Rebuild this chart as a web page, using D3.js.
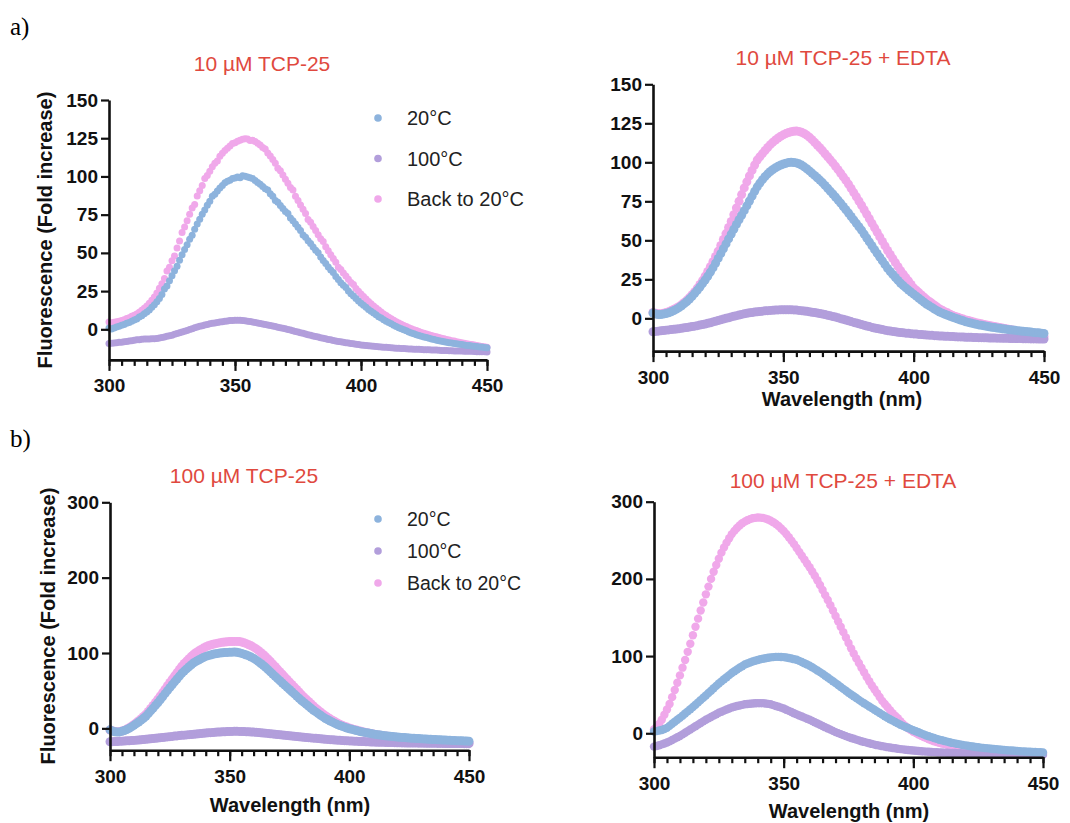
<!DOCTYPE html>
<html>
<head>
<meta charset="utf-8">
<script src="https://cdn.jsdelivr.net/npm/d3@7"></script>
<style>
  body { margin: 0; background: #fff; }
  svg { display: block; font-family: "Liberation Sans", Arial, Helvetica, sans-serif; }
</style>
</head>
<body>
<svg id="chart" width="1070" height="823"></svg>
<script>
// one reading per nm, starting at 300 nm
var waveStart = 300;

var seriesNames = ["20°C", "100°C", "Back to 20°C"];
var panelTitles = ["10 µM TCP-25", "10 µM TCP-25 + EDTA", "100 µM TCP-25", "100 µM TCP-25 + EDTA"];
var yTicksLow = [0, 25, 50, 75, 100, 125, 150];
var yTicksHigh = [0, 100, 200, 300];
var xMajorTicks = [300, 350, 400, 450];

// ---- a) 10 uM TCP-25 ----
var tcp10_20C = [
  0.8, 0.2, 0.9, 1.6, 2.0, 2.6, 3.1, 3.9, 4.4, 5.3,
  6.1, 6.8, 8.0, 8.9, 10.2, 11.3, 12.6, 14.4, 16.0, 18.1,
  20.2, 22.8, 26.3, 28.4, 31.8, 35.0, 38.3, 41.2, 45.1, 48.7,
  52.2, 55.4, 58.9, 61.6, 65.4, 68.9, 72.0, 75.3, 78.1, 81.2,
  83.8, 87.0, 88.3, 90.5, 92.4, 94.0, 95.9, 96.8, 97.5, 98.6,
  98.9, 99.6, 99.1, 100.4, 100.1, 99.6, 99.2, 98.6, 97.3, 96.0,
  94.9, 93.5, 92.0, 91.2, 88.6, 87.1, 84.3, 83.2, 81.0, 79.1,
  77.0, 75.8, 72.8, 71.0, 68.9, 66.8, 64.7, 61.7, 60.3, 58.0,
  56.1, 53.8, 51.7, 50.1, 47.3, 45.0, 43.0, 40.7, 38.8, 37.2,
  34.6, 32.6, 30.5, 28.8, 27.3, 25.1, 23.3, 21.8, 20.1, 18.6,
  17.1, 15.7, 14.4, 13.0, 11.8, 10.6, 9.5, 8.3, 7.4, 6.2,
  5.3, 4.4, 3.6, 2.6, 1.9, 1.1, 0.4, -0.3, -1.0, -1.7,
  -2.4, -2.9, -3.6, -4.0, -4.6, -5.1, -5.4, -5.9, -6.4, -6.7,
  -7.1, -7.4, -7.8, -8.1, -8.4, -8.8, -8.9, -9.3, -9.5, -9.8,
  -10.0, -10.2, -10.5, -10.6, -10.9, -11.1, -11.3, -11.5, -11.6, -11.9,
  -12.1
];
var tcp10_100C = [
  -9.3, -9.1, -8.9, -8.8, -8.5, -8.4, -8.1, -7.9, -7.6, -7.5,
  -7.2, -6.9, -6.8, -6.5, -6.4, -6.3, -6.4, -6.2, -6.2, -6.0,
  -5.7, -5.4, -5.0, -4.6, -4.2, -3.8, -3.3, -2.8, -2.3, -1.8,
  -1.2, -0.7, -0.1, 0.4, 1.0, 1.5, 2.0, 2.4, 2.9, 3.2,
  3.6, 3.9, 4.2, 4.5, 4.8, 5.0, 5.3, 5.4, 5.7, 5.8,
  5.9, 6.0, 5.9, 5.8, 5.6, 5.3, 5.1, 4.8, 4.5, 4.2,
  3.8, 3.5, 3.2, 2.9, 2.5, 2.2, 1.8, 1.4, 1.1, 0.7,
  0.3, -0.1, -0.5, -0.9, -1.4, -1.8, -2.2, -2.6, -3.1, -3.5,
  -3.9, -4.3, -4.7, -5.1, -5.5, -5.9, -6.2, -6.6, -6.9, -7.3,
  -7.6, -7.9, -8.2, -8.5, -8.8, -9.0, -9.3, -9.5, -9.8, -10.0,
  -10.2, -10.4, -10.6, -10.7, -10.9, -11.1, -11.2, -11.4, -11.5, -11.7,
  -11.8, -11.9, -12.1, -12.2, -12.3, -12.4, -12.5, -12.6, -12.7, -12.8,
  -12.9, -13.0, -13.1, -13.1, -13.2, -13.3, -13.4, -13.4, -13.5, -13.6,
  -13.6, -13.7, -13.8, -13.9, -13.9, -14.0, -14.0, -14.1, -14.1, -14.2,
  -14.2, -14.3, -14.3, -14.4, -14.4, -14.5, -14.6, -14.6, -14.7, -14.7,
  -14.8
];
var tcp10_back = [
  4.8, 4.2, 4.6, 5.0, 5.3, 5.7, 6.3, 7.0, 7.6, 8.5,
  9.2, 10.1, 11.2, 12.4, 13.8, 15.3, 17.0, 19.0, 21.2, 23.7,
  26.8, 29.8, 33.2, 38.1, 40.6, 44.8, 47.9, 53.2, 57.8, 63.4,
  66.9, 71.0, 75.3, 79.4, 81.6, 87.2, 90.6, 94.1, 98.6, 100.6,
  103.4, 106.3, 108.6, 110.1, 113.2, 115.1, 116.9, 118.4, 119.9, 121.6,
  122.1, 123.0, 123.6, 124.4, 124.7, 124.5, 123.5, 123.6, 122.8, 121.7,
  120.5, 119.0, 118.0, 115.4, 113.3, 111.1, 108.7, 105.4, 103.7, 101.0,
  98.2, 95.6, 92.8, 91.1, 87.1, 84.3, 81.4, 78.6, 75.7, 71.8,
  70.1, 67.3, 64.6, 61.9, 59.2, 57.5, 54.0, 51.4, 48.8, 46.3,
  43.9, 40.6, 39.2, 36.9, 34.8, 32.7, 30.6, 29.4, 26.7, 24.9,
  23.1, 21.4, 19.8, 18.2, 16.7, 15.2, 13.9, 12.6, 11.3, 10.1,
  9.0, 7.9, 6.9, 5.9, 5.0, 4.1, 3.3, 2.5, 1.8, 1.1,
  0.4, -0.2, -0.8, -1.4, -2.0, -2.5, -3.0, -3.5, -4.0, -4.5,
  -4.9, -5.4, -5.8, -6.2, -6.6, -7.0, -7.4, -7.7, -8.1, -8.4,
  -8.8, -9.1, -9.4, -9.7, -10.0, -10.3, -10.6, -10.9, -11.2, -11.4,
  -11.7
];

// ---- a) 10 uM TCP-25 + EDTA ----
var tcp10Edta_20C = [
  3.4, 2.8, 2.4, 2.4, 2.7, 3.1, 3.6, 4.2, 5.0, 5.9,
  6.9, 8.1, 9.4, 10.8, 12.4, 14.1, 16.0, 18.0, 20.1, 22.3,
  24.6, 27.0, 29.6, 32.3, 35.3, 38.4, 41.5, 44.6, 47.7, 50.9,
  54.0, 57.1, 60.2, 63.2, 66.1, 69.0, 72.1, 75.2, 78.3, 81.4,
  84.3, 86.7, 88.9, 90.9, 92.6, 94.1, 95.4, 96.5, 97.5, 98.3,
  98.9, 99.4, 99.8, 100.0, 99.9, 99.6, 99.0, 98.2, 97.1, 95.9,
  94.5, 93.1, 91.6, 90.1, 88.6, 87.0, 85.2, 83.4, 81.5, 79.7,
  77.8, 75.8, 73.8, 71.7, 69.6, 67.5, 65.3, 63.1, 60.9, 58.7,
  56.5, 54.0, 51.5, 49.0, 46.5, 44.0, 41.6, 39.2, 36.8, 34.4,
  32.0, 30.0, 28.1, 26.2, 24.3, 22.5, 21.0, 19.5, 18.1, 16.8,
  15.5, 14.2, 12.9, 11.6, 10.3, 9.0, 8.0, 7.0, 5.9, 4.9,
  4.0, 3.3, 2.6, 2.0, 1.3, 0.7, 0.1, -0.5, -1.1, -1.6,
  -2.2, -2.6, -3.0, -3.4, -3.8, -4.2, -4.5, -4.8, -5.1, -5.4,
  -5.7, -5.9, -6.2, -6.4, -6.7, -6.9, -7.1, -7.3, -7.5, -7.7,
  -7.9, -8.1, -8.3, -8.4, -8.6, -8.8, -9.0, -9.2, -9.3, -9.5,
  -9.7
];
var tcp10Edta_100C = [
  -8.6, -8.4, -8.2, -8.0, -7.8, -7.6, -7.4, -7.2, -7.0, -6.8,
  -6.6, -6.4, -6.1, -5.9, -5.6, -5.3, -5.0, -4.7, -4.3, -4.0,
  -3.6, -3.2, -2.8, -2.3, -1.9, -1.4, -0.9, -0.5, 0.0, 0.4,
  0.9, 1.3, 1.7, 2.1, 2.5, 2.9, 3.2, 3.5, 3.7, 4.0,
  4.2, 4.4, 4.6, 4.8, 4.9, 5.1, 5.2, 5.3, 5.4, 5.5,
  5.5, 5.5, 5.5, 5.5, 5.4, 5.3, 5.1, 4.9, 4.7, 4.5,
  4.2, 3.9, 3.7, 3.4, 3.1, 2.8, 2.4, 2.0, 1.6, 1.2,
  0.8, 0.3, -0.2, -0.6, -1.1, -1.6, -2.1, -2.6, -3.0, -3.5,
  -4.0, -4.4, -4.9, -5.3, -5.8, -6.2, -6.5, -6.9, -7.2, -7.6,
  -7.9, -8.1, -8.4, -8.6, -8.9, -9.1, -9.3, -9.5, -9.6, -9.8,
  -10.0, -10.1, -10.3, -10.4, -10.6, -10.7, -10.8, -10.9, -11.1, -11.2,
  -11.3, -11.4, -11.5, -11.5, -11.6, -11.7, -11.8, -11.9, -11.9, -12.0,
  -12.1, -12.2, -12.2, -12.3, -12.3, -12.4, -12.4, -12.5, -12.5, -12.6,
  -12.6, -12.6, -12.7, -12.7, -12.8, -12.8, -12.8, -12.9, -12.9, -13.0,
  -13.0, -13.0, -13.1, -13.1, -13.1, -13.2, -13.2, -13.2, -13.3, -13.3,
  -13.3
];
var tcp10Edta_back = [
  3.8, 3.2, 2.9, 3.0, 3.3, 3.7, 4.3, 5.0, 5.8, 6.6,
  7.6, 8.8, 10.2, 11.7, 13.3, 15.1, 17.1, 19.3, 21.7, 24.2,
  27.0, 30.0, 33.1, 36.3, 39.6, 43.0, 46.7, 50.5, 54.3, 58.2,
  62.1, 66.4, 70.7, 75.0, 79.3, 83.6, 87.5, 91.3, 94.8, 98.3,
  101.5, 103.6, 105.6, 107.6, 109.5, 111.3, 112.9, 114.3, 115.6, 116.7,
  117.6, 118.4, 119.1, 119.6, 119.9, 120.0, 119.8, 119.3, 118.5, 117.4,
  116.1, 114.5, 112.8, 111.1, 109.3, 107.5, 105.5, 103.6, 101.6, 99.6,
  97.5, 95.3, 93.0, 90.7, 88.4, 86.0, 83.3, 80.6, 77.9, 75.2,
  72.5, 69.6, 66.7, 63.8, 60.9, 58.0, 55.1, 52.2, 49.3, 46.4,
  43.5, 40.9, 38.3, 35.7, 33.1, 30.5, 28.3, 26.1, 23.9, 21.7,
  19.5, 18.0, 16.5, 15.0, 13.5, 12.0, 10.8, 9.6, 8.4, 7.2,
  6.0, 5.2, 4.3, 3.5, 2.6, 1.8, 1.2, 0.7, 0.1, -0.5,
  -1.0, -1.4, -1.9, -2.3, -2.8, -3.2, -3.5, -3.9, -4.2, -4.6,
  -4.9, -5.2, -5.5, -5.9, -6.2, -6.5, -6.8, -7.2, -7.5, -7.9,
  -8.2, -8.6, -8.9, -9.3, -9.6, -10.0, -10.3, -10.7, -11.0, -11.4,
  -11.7
];

// ---- b) 100 uM TCP-25 ----
var tcp100_20C = [
  -2.0, -3.5, -4.5, -5.0, -4.7, -4.0, -3.0, -1.6, 0.0, 1.9,
  4.0, 6.2, 8.5, 10.9, 13.4, 16.0, 19.5, 23.1, 26.7, 30.4,
  34.0, 38.0, 42.0, 46.0, 50.0, 54.0, 57.9, 61.7, 65.5, 69.3,
  73.0, 76.0, 78.9, 81.7, 84.4, 87.0, 88.9, 90.7, 92.4, 94.0,
  95.5, 96.5, 97.4, 98.2, 98.9, 99.5, 99.9, 100.3, 100.6, 100.8,
  101.0, 101.1, 101.2, 100.9, 100.3, 99.5, 98.5, 97.4, 96.1, 94.6,
  93.0, 90.8, 88.5, 86.1, 83.6, 81.0, 78.0, 75.0, 72.0, 69.0,
  66.0, 63.1, 60.2, 57.3, 54.4, 51.5, 48.6, 45.7, 42.8, 39.9,
  37.0, 34.4, 31.8, 29.2, 26.6, 24.0, 21.8, 19.6, 17.4, 15.2,
  13.0, 11.4, 9.8, 8.2, 6.6, 5.0, 3.8, 2.7, 1.6, 0.5,
  -0.5, -1.3, -2.1, -2.9, -3.7, -4.5, -5.1, -5.7, -6.3, -6.9,
  -7.5, -8.0, -8.5, -8.9, -9.4, -9.8, -10.2, -10.5, -10.9, -11.2,
  -11.5, -11.8, -12.0, -12.3, -12.5, -12.8, -13.0, -13.2, -13.4, -13.6,
  -13.8, -14.0, -14.2, -14.4, -14.6, -14.8, -14.9, -15.1, -15.2, -15.4,
  -15.5, -15.7, -15.8, -16.0, -16.1, -16.3, -16.4, -16.6, -16.7, -16.9,
  -17.0
];
var tcp100_100C = [
  -17.8, -17.7, -17.5, -17.4, -17.2, -17.0, -16.8, -16.6, -16.4, -16.2,
  -16.0, -15.7, -15.4, -15.1, -14.8, -14.5, -14.2, -13.8, -13.5, -13.1,
  -12.8, -12.4, -12.1, -11.7, -11.4, -11.0, -10.7, -10.3, -10.0, -9.6,
  -9.3, -9.0, -8.7, -8.4, -8.1, -7.8, -7.5, -7.2, -6.9, -6.6,
  -6.3, -6.0, -5.7, -5.5, -5.2, -5.0, -4.8, -4.6, -4.5, -4.3,
  -4.2, -4.1, -4.0, -4.0, -4.1, -4.2, -4.3, -4.5, -4.6, -4.8,
  -5.0, -5.3, -5.5, -5.8, -6.1, -6.4, -6.7, -7.1, -7.4, -7.8,
  -8.1, -8.4, -8.8, -9.1, -9.5, -9.8, -10.1, -10.5, -10.8, -11.2,
  -11.5, -11.8, -12.1, -12.4, -12.7, -13.0, -13.3, -13.6, -13.9, -14.2,
  -14.5, -14.7, -15.0, -15.2, -15.5, -15.7, -15.9, -16.1, -16.3, -16.5,
  -16.7, -16.9, -17.0, -17.2, -17.3, -17.5, -17.6, -17.8, -17.9, -18.1,
  -18.2, -18.3, -18.4, -18.5, -18.6, -18.7, -18.8, -18.9, -18.9, -19.0,
  -19.1, -19.2, -19.3, -19.3, -19.4, -19.5, -19.5, -19.6, -19.6, -19.7,
  -19.7, -19.7, -19.8, -19.8, -19.9, -19.9, -19.9, -20.0, -20.0, -20.0,
  -20.1, -20.1, -20.1, -20.1, -20.2, -20.2, -20.2, -20.2, -20.3, -20.3,
  -20.3
];
var tcp100_back = [
  -2.2, -3.3, -4.2, -4.6, -4.4, -3.6, -2.5, -1.0, 0.8, 2.9,
  5.2, 7.6, 10.2, 12.9, 15.8, 18.8, 22.4, 26.4, 30.4, 34.5,
  38.6, 43.0, 47.5, 52.0, 56.5, 61.0, 65.4, 69.7, 74.0, 78.3,
  82.4, 86.0, 89.3, 92.5, 95.6, 98.5, 100.8, 102.8, 104.7, 106.5,
  108.2, 109.5, 110.6, 111.6, 112.4, 113.1, 113.7, 114.2, 114.6, 114.9,
  115.1, 115.3, 115.4, 115.4, 115.1, 114.5, 113.6, 112.4, 111.0, 109.5,
  107.8, 105.8, 103.4, 100.8, 98.0, 95.2, 92.2, 88.9, 85.5, 82.1,
  78.6, 75.2, 71.8, 68.4, 65.0, 61.6, 58.2, 54.9, 51.5, 48.2,
  44.8, 41.6, 38.6, 35.6, 32.6, 29.6, 26.8, 24.2, 21.7, 19.2,
  16.7, 14.6, 12.6, 10.8, 9.0, 7.2, 5.6, 4.2, 2.9, 1.7,
  0.5, -0.5, -1.4, -2.3, -3.2, -4.0, -4.8, -5.5, -6.2, -6.9,
  -7.5, -8.1, -8.7, -9.2, -9.7, -10.2, -10.6, -11.0, -11.4, -11.8,
  -12.2, -12.5, -12.8, -13.1, -13.4, -13.7, -14.0, -14.3, -14.5, -14.8,
  -15.0, -15.3, -15.5, -15.8, -16.0, -16.2, -16.4, -16.6, -16.8, -17.0,
  -17.2, -17.4, -17.6, -17.8, -18.0, -18.2, -18.4, -18.6, -18.8, -19.0,
  -19.2
];

// ---- b) 100 uM TCP-25 + EDTA ----
var tcp100Edta_20C = [
  2.2, 2.8, 3.5, 4.3, 5.6, 7.0, 9.6, 12.3, 15.0, 17.5,
  20.0, 22.8, 25.6, 28.4, 31.2, 34.0, 37.0, 40.0, 43.0, 46.0,
  49.0, 52.1, 55.2, 58.3, 61.4, 64.5, 67.2, 69.9, 72.6, 75.3,
  78.0, 80.3, 82.6, 84.8, 86.9, 89.0, 90.4, 91.7, 92.9, 94.0,
  95.0, 95.8, 96.5, 97.2, 97.8, 98.3, 98.7, 99.0, 99.0, 98.9,
  98.7, 98.1, 97.5, 96.8, 96.0, 95.2, 93.8, 92.3, 90.8, 89.2,
  87.5, 85.5, 83.4, 81.3, 79.2, 77.0, 74.6, 72.2, 69.8, 67.4,
  65.0, 62.5, 60.0, 57.5, 55.0, 52.5, 50.2, 47.9, 45.6, 43.3,
  41.0, 38.9, 36.8, 34.7, 32.6, 30.5, 28.4, 26.3, 24.2, 22.1,
  20.0, 18.2, 16.4, 14.6, 12.8, 11.0, 9.6, 8.2, 6.8, 5.4,
  4.0, 2.6, 1.3, -0.1, -1.4, -2.8, -3.9, -5.0, -6.1, -7.2,
  -8.3, -9.1, -10.0, -10.8, -11.7, -12.5, -13.1, -13.8, -14.4, -15.1,
  -15.7, -16.2, -16.7, -17.2, -17.7, -18.2, -18.6, -18.9, -19.3, -19.6,
  -20.0, -20.3, -20.6, -21.0, -21.3, -21.6, -21.9, -22.2, -22.4, -22.7,
  -23.0, -23.2, -23.4, -23.6, -23.8, -24.0, -24.2, -24.3, -24.5, -24.6,
  -24.8
];
var tcp100Edta_100C = [
  -17.3, -16.4, -15.5, -14.4, -13.3, -12.0, -10.5, -8.7, -6.9, -5.2,
  -3.5, -1.4, 0.7, 2.8, 4.9, 7.0, 9.1, 11.2, 13.3, 15.4,
  17.5, 19.3, 21.1, 22.9, 24.7, 26.5, 27.9, 29.3, 30.7, 32.1,
  33.5, 34.4, 35.3, 36.0, 36.8, 37.5, 37.9, 38.3, 38.6, 38.8,
  39.0, 39.0, 39.0, 38.6, 38.1, 37.5, 36.5, 35.4, 34.3, 33.2,
  32.0, 30.5, 29.0, 27.5, 26.0, 24.5, 23.1, 21.7, 20.3, 18.9,
  17.5, 15.9, 14.3, 12.7, 11.1, 9.5, 7.9, 6.3, 4.7, 3.1,
  1.5, 0.2, -1.1, -2.4, -3.7, -5.0, -6.1, -7.1, -8.2, -9.2,
  -10.3, -11.2, -12.1, -12.9, -13.8, -14.7, -15.4, -16.0, -16.7, -17.3,
  -18.0, -18.5, -19.0, -19.5, -20.0, -20.5, -20.9, -21.3, -21.6, -22.0,
  -22.4, -22.7, -23.0, -23.2, -23.5, -23.8, -24.0, -24.2, -24.4, -24.6,
  -24.8, -24.9, -25.1, -25.2, -25.4, -25.5, -25.6, -25.7, -25.9, -26.0,
  -26.1, -26.2, -26.3, -26.4, -26.5, -26.6, -26.7, -26.8, -26.8, -26.9,
  -27.0, -27.1, -27.1, -27.2, -27.2, -27.3, -27.4, -27.4, -27.5, -27.5,
  -27.6, -27.6, -27.7, -27.7, -27.7, -27.8, -27.8, -27.9, -27.9, -28.0,
  -28.0
];
var tcp100Edta_back = [
  5.0, 8.2, 12.0, 17.6, 24.0, 30.8, 38.0, 46.8, 56.0, 65.4,
  75.0, 85.0, 95.0, 105.5, 116.0, 127.0, 138.0, 148.5, 159.0, 169.5,
  180.0, 190.0, 200.0, 209.2, 218.0, 226.2, 234.0, 240.8, 247.0, 252.7,
  258.0, 262.2, 266.0, 269.2, 272.0, 274.2, 276.0, 277.4, 278.5, 279.1,
  279.5, 279.4, 279.0, 278.1, 277.0, 275.4, 273.5, 271.1, 268.5, 265.4,
  262.0, 258.1, 254.0, 249.6, 245.0, 240.1, 235.0, 230.0, 225.0, 220.0,
  215.0, 209.6, 204.0, 198.2, 192.0, 185.6, 179.0, 172.6, 166.0, 159.0,
  152.0, 145.0, 138.0, 131.0, 124.0, 117.0, 110.0, 103.4, 97.0, 91.0,
  85.0, 79.0, 73.0, 67.4, 62.0, 57.0, 52.0, 47.0, 42.0, 38.0,
  34.0, 30.0, 26.0, 22.6, 19.4, 15.7, 12.0, 9.2, 6.5, 4.2,
  2.0, 0.2, -1.5, -3.2, -4.8, -6.3, -7.8, -9.1, -10.3, -11.4,
  -12.4, -13.3, -14.1, -14.9, -15.6, -16.3, -16.9, -17.5, -18.1, -18.7,
  -19.3, -19.7, -20.1, -20.5, -20.9, -21.3, -21.6, -21.9, -22.2, -22.5,
  -22.8, -23.0, -23.3, -23.5, -23.8, -24.0, -24.2, -24.4, -24.6, -24.8,
  -25.0, -25.2, -25.3, -25.5, -25.6, -25.8, -25.9, -26.0, -26.2, -26.3,
  -26.4
];

var colors = ["#8db3dd", "#b29edb", "#f0a8ea"];
var titleColor = "#e0493e";

var svg = d3.select("#chart");

var panels = [
  { title: panelTitles[0], series: [tcp10_20C, tcp10_100C, tcp10_back],
    x0: 109, x1: 487, yMin: -20, yMax: 150, yTopPx: 100, yBottomPx: 359.9, yTicks: yTicksLow, r: 3.5,
    titleX: 262, titleY: 71, yLabel: [52, 230], xLabel: null,
    legend: { x: 378, y: 118, gap: 40.5, size: 20 } },
  { title: panelTitles[1], series: [tcp10Edta_20C, tcp10Edta_100C, tcp10Edta_back],
    x0: 653, x1: 1044, yMin: -21, yMax: 150, yTopPx: 84.3, yBottomPx: 351.1, yTicks: yTicksLow, r: 4.5,
    titleX: 843, titleY: 65, yLabel: null, xLabel: [842, 406], legend: null },
  { title: panelTitles[2], series: [tcp100_20C, tcp100_100C, tcp100_back],
    x0: 110, x1: 469, yMin: -29, yMax: 300, yTopPx: 502.3, yBottomPx: 750.2, yTicks: yTicksHigh, r: 4.5,
    titleX: 244, titleY: 483, yLabel: [55, 626], xLabel: [290, 812],
    legend: { x: 378, y: 519, gap: 32, size: 19.5 } },
  { title: panelTitles[3], series: [tcp100Edta_20C, tcp100Edta_100C, tcp100Edta_back],
    x0: 654, x1: 1043, yMin: -31, yMax: 300, yTopPx: 501.7, yBottomPx: 757.2, yTicks: yTicksHigh, r: 4.2,
    titleX: 843, titleY: 488, yLabel: null, xLabel: [849, 818], legend: null }
];

panels.forEach(function(p) {
  var x = d3.scaleLinear().domain([300, 450]).range([p.x0, p.x1]);
  var y = d3.scaleLinear().domain([p.yMin, p.yMax]).range([p.yBottomPx, p.yTopPx]);
  var g = svg.append("g");

  // dots: back to 20 first, then 100, 20 on top
  [2, 1, 0].forEach(function(si) {
    g.append("g").selectAll("circle")
      .data(p.series[si])
      .enter().append("circle")
        .attr("cx", function(d, i) { return x(waveStart + i); })
        .attr("cy", function(d) { return y(d); })
        .attr("r", p.r)
        .attr("fill", colors[si]);
  });

  // x axis: minor ticks every 5 nm, majors labelled
  var xMinor = g.append("g")
    .attr("transform", "translate(0," + y(p.yMin) + ")")
    .call(d3.axisBottom(x).tickValues(d3.range(300, 451, 5)).tickSize(6).tickFormat(""));
  xMinor.select(".domain").remove();

  var xAxis = g.append("g")
    .attr("transform", "translate(0," + y(p.yMin) + ")")
    .call(d3.axisBottom(x).tickValues(xMajorTicks).tickSize(11).tickSizeOuter(0).tickPadding(8).tickFormat(d3.format("d")));

  var yAxis = g.append("g")
    .attr("transform", "translate(" + p.x0 + ",0)")
    .call(d3.axisLeft(y).tickValues(p.yTicks).tickSize(8).tickSizeOuter(0).tickPadding(3).tickFormat(d3.format("d")));

  [xMinor, xAxis, yAxis].forEach(function(a) {
    a.selectAll("line").attr("stroke", "#111").attr("stroke-width", 2.2);
    a.selectAll(".domain").attr("stroke", "#111").attr("stroke-width", 2.6);
    a.selectAll("text")
      .attr("fill", "#111")
      .style("font-size", "19px")
      .style("font-weight", "bold");
  });

  g.append("text")
    .attr("x", p.titleX)
    .attr("y", p.titleY)
    .attr("text-anchor", "middle")
    .attr("fill", titleColor)
    .style("font-size", "21px")
    .text(p.title);

  if (p.yLabel) {
    g.append("text")
      .attr("transform", "translate(" + p.yLabel[0] + "," + p.yLabel[1] + ") rotate(-90)")
      .attr("text-anchor", "middle")
      .attr("fill", "#111")
      .style("font-size", "20px")
      .style("font-weight", "bold")
      .text("Fluorescence (Fold increase)");
  }

  if (p.xLabel) {
    g.append("text")
      .attr("x", p.xLabel[0])
      .attr("y", p.xLabel[1])
      .attr("text-anchor", "middle")
      .attr("fill", "#111")
      .style("font-size", "20px")
      .style("font-weight", "bold")
      .text("Wavelength (nm)");
  }

  if (p.legend) {
    var lg = g.append("g").selectAll("g")
      .data(seriesNames)
      .enter().append("g")
        .attr("transform", function(d, i) { return "translate(" + p.legend.x + "," + (p.legend.y + i * p.legend.gap) + ")"; });
    lg.append("circle")
      .attr("r", 3.8)
      .attr("fill", function(d, i) { return colors[i]; });
    lg.append("text")
      .attr("x", 29)
      .attr("y", p.legend.size * 0.36)
      .attr("fill", "#222")
      .style("font-size", p.legend.size + "px")
      .text(function(d) { return d; });
  }
});

// panel letters
svg.append("text").attr("x", 10).attr("y", 35)
  .style("font-family", "'Liberation Serif', 'Times New Roman', serif")
  .style("font-size", "25px").text("a)");
svg.append("text").attr("x", 10).attr("y", 447)
  .style("font-family", "'Liberation Serif', 'Times New Roman', serif")
  .style("font-size", "25px").text("b)");
</script>
</body>
</html>
